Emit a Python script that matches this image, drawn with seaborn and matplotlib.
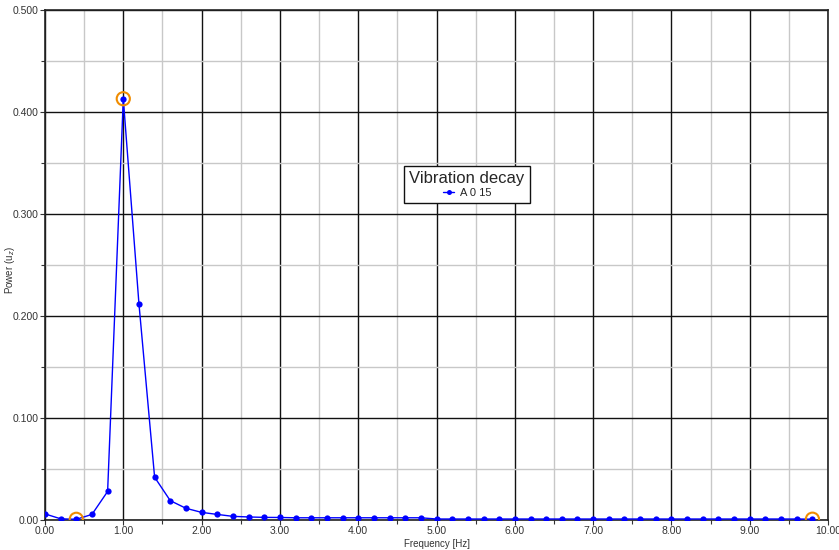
import matplotlib
matplotlib.use("Agg")
import matplotlib.pyplot as plt
from matplotlib.ticker import MultipleLocator, FormatStrFormatter
import numpy as np
import pandas as pd
import seaborn as sns

# Spectrum sampled every 0.2 Hz
freq = [0.0, 0.2, 0.4, 0.6, 0.8, 1.0, 1.2, 1.4, 1.6, 1.8,
        2.0, 2.2, 2.4, 2.6, 2.8, 3.0, 3.2, 3.4, 3.6, 3.8,
        4.0, 4.2, 4.4, 4.6, 4.8, 5.0, 5.2, 5.4, 5.6, 5.8,
        6.0, 6.2, 6.4, 6.6, 6.8, 7.0, 7.2, 7.4, 7.6, 7.8,
        8.0, 8.2, 8.4, 8.6, 8.8, 9.0, 9.2, 9.4, 9.6, 9.8]
power = [0.006, 0.0012, 0.0007, 0.0055, 0.028, 0.413, 0.212, 0.042, 0.019, 0.0115,
         0.0075, 0.0055, 0.0036, 0.003, 0.0026, 0.0025, 0.0022, 0.0022, 0.0022, 0.0022,
         0.0022, 0.0022, 0.0022, 0.0022, 0.0022, 0.0010, 0.0010, 0.0010, 0.0010, 0.0010,
         0.0010, 0.0010, 0.0010, 0.0010, 0.0010, 0.0010, 0.0010, 0.0010, 0.0010, 0.0010,
         0.0010, 0.0010, 0.0010, 0.0010, 0.0010, 0.0010, 0.0010, 0.0010, 0.0010, 0.0008]
series_name = "A 0 15"
legend_title = "Vibration decay"
# Highlighted samples: minimum, peak, last
highlight_freq = [0.4, 1.0, 9.8]
highlight_power = [0.0007, 0.413, 0.0008]

df = pd.DataFrame({"Frequency": freq, "Power": power, "Series": series_name})
hl = pd.DataFrame({"Frequency": highlight_freq, "Power": highlight_power})

sns.set_style("white")
plt.rcParams["font.family"] = ["Liberation Sans", "DejaVu Sans"]

fig = plt.figure(figsize=(8.39, 5.5), dpi=100)
ax = fig.add_axes([0.0536, 0.0545, 0.9334, 0.9273])

# grid
ax.xaxis.set_major_locator(MultipleLocator(1.0))
ax.xaxis.set_minor_locator(MultipleLocator(0.5))
ax.yaxis.set_major_locator(MultipleLocator(0.1))
ax.yaxis.set_minor_locator(MultipleLocator(0.05))
ax.grid(which="major", color="#111111", linewidth=1.0, zorder=0)
ax.grid(which="minor", color="#c8c8c8", linewidth=1.0, zorder=0)
ax.set_axisbelow(True)

sns.lineplot(data=df, x="Frequency", y="Power", hue="Series",
             palette=["#0000ff"], marker="o", markersize=4.5,
             markeredgewidth=0, linewidth=1.0, ax=ax, zorder=3)
sns.scatterplot(data=hl, x="Frequency", y="Power", s=90, marker="o",
                facecolor="none", edgecolor="#f08c00", linewidth=1.5,
                ax=ax, zorder=4, legend=False)

ax.set_xlim(0, 10)
ax.set_ylim(0, 0.5)
ax.xaxis.set_major_formatter(FormatStrFormatter("%.2f"))
ax.yaxis.set_major_formatter(plt.FuncFormatter(
    lambda v, p: "0.00" if abs(v) < 1e-9 else f"{v:.3f}"))

ax.tick_params(axis="both", which="major", labelsize=7.5, length=3.5,
               width=0.8, color="#333333", labelcolor="#333333",
               direction="out", bottom=True, left=True, pad=1)
ax.tick_params(axis="both", which="minor", length=3, width=0.8,
               color="#333333", direction="out", bottom=True, left=True)

for side in ["left", "bottom", "top", "right"]:
    ax.spines[side].set_color("#222222")
    ax.spines[side].set_linewidth(1.2)
    ax.spines[side].set_visible(True)

ax.set_xlabel("Frequency [Hz]", fontsize=7, color="#333333", labelpad=2)
ax.set_ylabel("Power (u$_z$)", fontsize=7, color="#333333")
ax.yaxis.set_label_coords(-0.036, 0.49)

leg = ax.legend(title=legend_title, loc="upper left",
                bbox_to_anchor=(0.452, 0.705), fontsize=8, title_fontsize=12,
                frameon=True, fancybox=False, edgecolor="#111111",
                borderpad=0.45, handlelength=1.0, handletextpad=0.5,
                labelspacing=0.2, markerscale=0.8)
leg.get_frame().set_linewidth(1.0)
leg.get_frame().set_alpha(1.0)

fig.savefig("out.png", dpi=100)
